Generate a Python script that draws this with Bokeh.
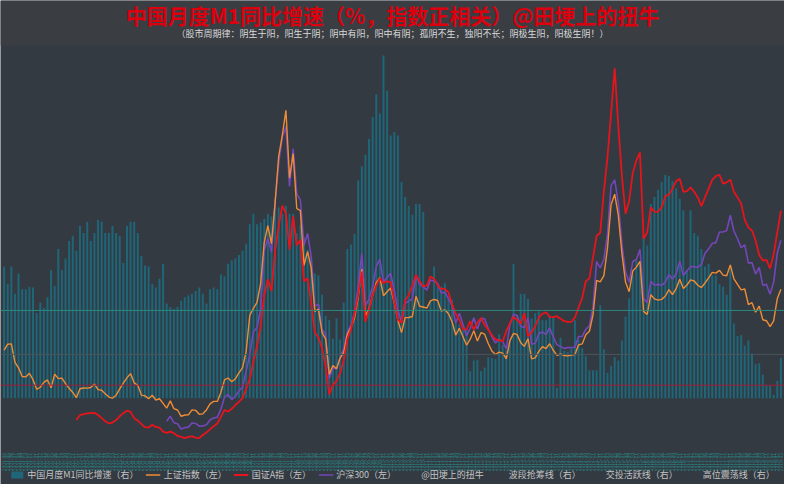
import numpy as np
from bokeh.plotting import figure
from bokeh.models import Range1d, FactorRange, Span, BoxAnnotation, Label, Legend, LegendItem
from bokeh.embed import file_html
from bokeh.resources import INLINE
from bokeh.core.properties import value

# ---------------- data ----------------
months = [f"{y}-{m:02d}" for y in range(2001, 2020) for m in range(1, 13)][3:3 + 216]  # 2001-04 .. 2019-03

m1_growth = [
    15.0, 13.0, 15.0, 11.9, 14.2, 12.4, 12.4, 12.7, 12.6,
    9.7, 10.9, 10.3, 11.5, 14.6, 12.8, 17.0, 14.6, 15.9, 17.9, 18.5, 16.8,
    19.6, 18.8, 20.1, 17.9, 18.8, 20.3, 20.1, 18.8, 18.8, 19.6, 18.8, 18.5,
    15.4, 19.6, 20.1, 20.1, 18.8, 16.2, 15.1, 15.0, 13.0, 12.6, 13.6, 15.3,
    10.8, 10.4, 10.2, 10.4, 11.1, 11.5, 11.7, 11.9, 12.2, 12.6, 11.9, 10.8,
    12.4, 12.6, 12.4, 14.1, 13.9, 15.3, 15.7, 15.9, 16.3, 16.8, 17.6, 19.8,
    21.0, 19.8, 20.0, 20.4, 21.0, 20.7, 22.7, 21.7, 21.0, 21.9, 21.0, 21.0,
    18.8, 19.7, 18.3, 16.9, 16.0, 14.2, 14.0, 11.8, 9.4, 8.9, 6.8, 9.1,
    6.7, 10.9, 17.0, 17.5, 18.7, 24.8, 26.4, 27.7, 29.5, 32.0, 34.6, 32.4,
    39.0, 35.0, 29.9, 30.3, 29.9, 24.6, 22.9, 21.9, 20.9, 22.1, 22.1, 21.2,
    9.9, 11.1, 15.0, 12.9, 12.7, 13.1, 11.6, 11.2, 8.9, 8.4, 7.8, 7.9,
    3.1, 4.3, 4.4, 3.1, 3.5, 4.7, 4.6, 4.5, 7.3, 6.1, 5.5, 6.5,
    15.3, 9.5, 11.9, 11.9, 11.3, 9.1, 9.7, 9.9, 8.9, 8.9, 9.4, 9.3,
    1.2, 6.9, 5.4, 5.3, 5.7, 8.9, 6.7, 5.7, 4.8, 3.2, 3.2, 3.2,
    10.6, 5.6, 2.9, 3.7, 4.7, 4.3, 6.6, 9.3, 11.4, 14.0, 15.7, 15.2,
    18.6, 17.4, 22.1, 22.9, 23.7, 24.6, 25.4, 25.3, 24.7, 23.9, 22.7, 21.4,
    14.5, 21.4, 18.8, 18.5, 17.0, 15.0, 15.3, 14.0, 14.0, 13.0, 12.7, 11.8,
    15.0, 8.5, 7.1, 7.2, 6.0, 6.6, 5.1, 3.9, 4.0, 2.7, 1.5, 1.5,
    0.4, 2.0, 4.6,
]

shanghai = [
    2119, 2214, 2218, 1921, 1834, 1697, 1690, 1748, 1646,
    1491, 1524, 1603, 1641, 1515, 1732, 1662, 1670, 1581, 1507, 1441, 1357,
    1500, 1512, 1510, 1521, 1576, 1487, 1477, 1421, 1367, 1349, 1397, 1497,
    1590, 1675, 1742, 1595, 1555, 1399, 1386, 1342, 1396, 1320, 1340, 1266,
    1191, 1306, 1181, 1160, 1060, 1080, 1083, 1162, 1155, 1092, 1099, 1161,
    1258, 1299, 1298, 1440, 1641, 1672, 1612, 1658, 1753, 1837, 2099, 2675,
    2786, 2881, 3183, 3841, 4109, 3821, 4471, 5218, 5552, 5954, 4871, 5262,
    4383, 4348, 3473, 3693, 3433, 2736, 2775, 2397, 2293, 1729, 1871, 1821,
    1991, 2082, 2373, 2477, 2633, 2959, 3412, 2667, 2779, 2996, 3195, 3277,
    2989, 3051, 3110, 2870, 2592, 2398, 2638, 2639, 2656, 2979, 2820, 2808,
    2790, 2905, 2928, 2911, 2743, 2762, 2701, 2568, 2359, 2468, 2333, 2199,
    2292, 2428, 2263, 2397, 2373, 2225, 2103, 2047, 2086, 2069, 1980, 2269,
    2385, 2366, 2237, 2178, 2301, 1979, 1994, 2098, 2175, 2141, 2220, 2116,
    2033, 2056, 2033, 2026, 2039, 2048, 2202, 2217, 2364, 2420, 2683, 3235,
    3210, 3310, 3748, 4442, 4612, 4277, 3664, 3206, 3053, 3383, 3445, 3539,
    2738, 2688, 3004, 2938, 2917, 2930, 2979, 3085, 3005, 3100, 3250, 3104,
    3159, 3242, 3223, 3155, 3117, 3192, 3273, 3361, 3349, 3393, 3317, 3307,
    3481, 3259, 3169, 3082, 3095, 2847, 2876, 2725, 2821, 2603, 2588, 2494,
    2585, 2941, 3091,
]

guozheng_start = "2002-12"
guozheng = [
    1000, 1080, 1095, 1105, 1112, 1115, 1080, 1030, 980, 945, 960, 1000, 1060,
    1110, 1150, 1130, 1030, 990, 935, 885, 880, 925, 890, 880, 815, 795, 815,
    790, 745, 730, 712, 730, 740, 720, 712, 760, 800, 850, 900, 945, 1050, 1160,
    1135, 1180, 1240, 1290, 1350, 1500, 1660, 1935, 2180, 2500,
    3000, 3250, 3065, 3700, 4100, 4427, 4303, 3730, 4257, 3793, 3885, 3220, 3266, 2864, 2400,
    2320, 2150, 1850, 1409, 1563, 1620, 1750, 1950, 2290, 2450, 2700, 3000, 3375, 2570,
    2755, 3000, 3150, 3266, 3190, 3220, 3200, 2900, 2600, 2560, 2910, 3000, 3150, 3320,
    3220, 3140, 3150, 3297, 3260, 3150, 3096, 3096, 3040, 2850, 2700, 2600, 2450, 2450, 2580,
    2445, 2560, 2631, 2520, 2445, 2360, 2290, 2275, 2260, 2420, 2550, 2647, 2600, 2540,
    2709, 2337, 2400, 2500, 2640, 2700, 2724, 2650, 2647, 2660, 2620, 2580, 2570, 2570,
    2640, 2800, 2950, 3220, 3266, 3600, 3947, 3994, 4650, 5200, 5900, 6625,
    5700, 4900, 4300, 4500, 4950, 5150, 5279, 3900, 4000, 4400, 4334, 4330, 4400, 4580,
    4600, 4700, 4820, 4860, 4650, 4660, 4720, 4650, 4560, 4420, 4560, 4700, 4840, 4900,
    4923, 4780, 4800, 4845, 4650, 4560, 4460, 4200, 4080, 4030, 3870, 3640, 3550, 3560,
    3421, 3650, 4000, 4350,
]

hs300_start = "2005-01"
hs300 = [
    982, 1059, 957, 940, 856, 878, 887, 952, 945, 902, 904, 923,
    1000, 1033, 1043, 1174, 1365, 1409, 1327, 1380, 1465, 1527, 1783, 2041,
    2416, 2476, 2781, 3709, 3903, 3687, 4472, 5107, 5522, 5688, 4737, 5338,
    4617, 4518, 3790, 3985, 3614, 2820, 2851, 2445, 2378, 1663, 1838, 1817,
    1992, 2140, 2403, 2519, 2719, 3136, 3662, 2831, 2931, 3140, 3452, 3575,
    3204, 3281, 3345, 3067, 2758, 2564, 2868, 2902, 2935, 3321, 3174, 3128,
    3076, 3239, 3223, 3186, 3033, 3044, 2937, 2829, 2552, 2707, 2533, 2346,
    2464, 2635, 2455, 2626, 2620, 2461, 2333, 2232, 2294, 2254, 2139, 2523,
    2688, 2673, 2495, 2479, 2633, 2215, 2223, 2385, 2409, 2367, 2474, 2331,
    2203, 2178, 2146, 2158, 2160, 2165, 2336, 2338, 2450, 2508, 2809, 3533,
    3434, 3572, 3966, 4749, 4840, 4473, 3816, 3367, 3203, 3534, 3566, 3731,
    2946, 2877, 3218, 3156, 3169, 3154, 3203, 3327, 3253, 3336, 3538, 3310,
    3387, 3452, 3456, 3439, 3492, 3666, 3737, 3822, 3837, 4006, 4006, 4031,
    4275, 4023, 3899, 3757, 3802, 3510, 3517, 3335, 3439, 3153, 3173, 3011,
    3202, 3670, 3873,
]

ref_lines = {"波段抢筹线（右）": 1.5, "交投活跃线（右）": 5.0, "高位震荡线（右）": 10.0}

title_text = "中国月度M1同比增速（%，指数正相关）@田埂上的扭牛"
subtitle_text = "（股市周期律：阴生于阳，阳生于阴；阴中有阳，阳中有阴；孤阴不生，独阳不长；阴极生阳，阳极生阴！）"

# ---------------- styles ----------------
BG = "#333a42"
BAND = "#3a3e43"
BAR = "#1e6678"
ORANGE = "#f08c34"
RED = "#e8141c"
PURPLE = "#7446b8"
TICK = "#2a8585"
REF_COLORS = {"波段抢筹线（右）": "#a01c34", "交投活跃线（右）": "#4a545b", "高位震荡线（右）": "#2c8a7c"}
FONT = "Noto Sans CJK SC"

# the frame covers the whole canvas; vertical placement follows the M1 (right) scale
p = figure(width=784, height=484, output_backend="svg", toolbar_location=None,
           x_range=FactorRange(factors=months, range_padding=0.5, range_padding_units="absolute"),
           y_range=Range1d(-31, 7709),
           min_border=0)
p.extra_y_ranges = {"m1": Range1d(-9.8, 45.26)}
p.background_fill_color = BG
p.border_fill_color = BG
p.outline_line_color = None
p.xgrid.visible = False
p.ygrid.visible = False
p.xaxis.visible = False
p.yaxis.visible = False

# title band
p.add_layout(BoxAnnotation(bottom=40.1, y_range_name="m1", fill_color=BAND, fill_alpha=1,
                           line_alpha=0, level="underlay"))

bars = p.vbar(x=months, top=m1_growth, width=0.55, y_range_name="m1",
              fill_color=BAR, line_color=None)

for name, lvl in ref_lines.items():
    p.add_layout(Span(location=lvl, dimension="width", y_range_name="m1",
                      line_color=REF_COLORS[name], line_width=1))

r_hs = p.line(x=months[months.index(hs300_start):], y=hs300, line_color=PURPLE, line_width=1.6)
r_sh = p.line(x=months, y=shanghai, line_color=ORANGE, line_width=1.4)
r_gz = p.line(x=months[months.index(guozheng_start):], y=guozheng, line_color=RED, line_width=1.8)

# month tick labels under the bars (vertical, one per month)
p.text(x=months, y=[-6.2] * len(months), text=months, y_range_name="m1",
       angle=np.pi / 2, text_align="right", text_baseline="middle",
       text_font_size="5px", text_color=TICK, text_font=value(FONT))

dummy_sig = p.line(x=[], y=[], line_alpha=0)
dummy_refs = {name: p.line(x=[], y=[], line_color=REF_COLORS[name], line_width=2) for name in ref_lines}

items = [
    LegendItem(label="中国月度M1同比增速（右）", renderers=[bars]),
    LegendItem(label="上证指数（左）", renderers=[r_sh]),
    LegendItem(label="国证A指（左）", renderers=[r_gz]),
    LegendItem(label="沪深300（左）", renderers=[r_hs]),
    LegendItem(label="@田埂上的扭牛", renderers=[dummy_sig]),
] + [LegendItem(label=name, renderers=[dummy_refs[name]]) for name in ref_lines]

legend = Legend(items=items, orientation="horizontal", location="bottom_center",
                label_text_font_size="9px", label_text_color="#c4c4c4", label_text_font=FONT,
                background_fill_alpha=0, border_line_alpha=0, glyph_width=15, glyph_height=9,
                label_height=10, spacing=7, padding=2, margin=1, label_standoff=3)
p.add_layout(legend)

p.add_layout(Label(x=108, y=43.6, y_range_name="m1", text=title_text, text_align="center",
                   text_baseline="middle", text_font_size="21px", text_font_style="bold",
                   text_color="#dc000e", text_font=FONT))
p.add_layout(Label(x=108, y=41.5, y_range_name="m1", text=subtitle_text, text_align="center",
                   text_baseline="middle", text_font_size="9px", text_color="#d8d8d8",
                   text_font=FONT))

open("out.html", "w").write(file_html(p, INLINE))
